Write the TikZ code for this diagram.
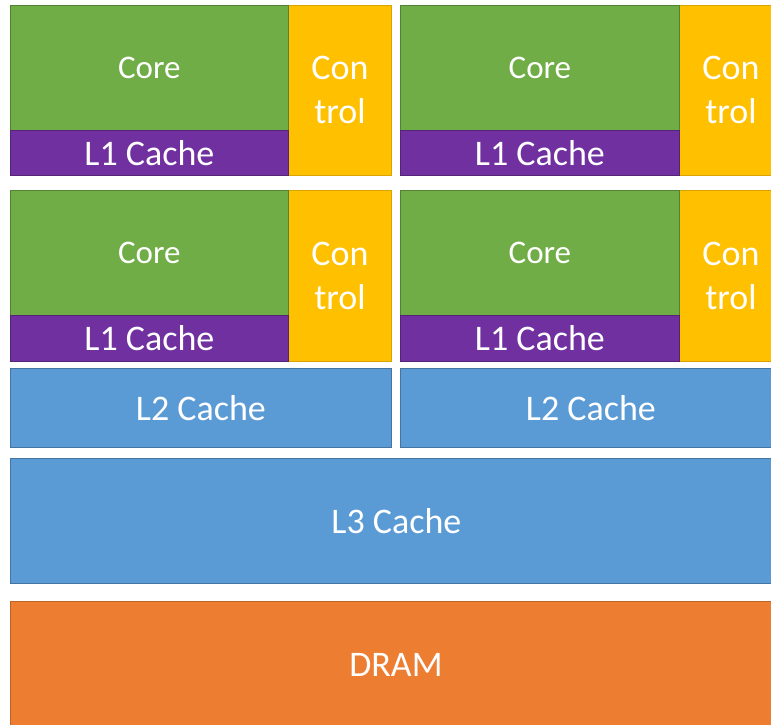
\documentclass[tikz,border=0pt]{standalone}
\usepackage{fontspec}
\setmainfont{Carlito}
\definecolor{cgreen}{HTML}{70AD47}
\definecolor{cpurple}{HTML}{7030A0}
\definecolor{cgold}{HTML}{FFC000}
\definecolor{cblue}{HTML}{5B9BD5}
\definecolor{corange}{HTML}{ED7D31}
\tikzset{
  blk/.style={rectangle, anchor=north west, inner sep=0pt, line width=0.8pt, text=white, align=center},
  corebox/.style={blk, fill=cgreen, draw=cgreen!75!black, font=\fontsize{33}{40}\selectfont},
  l1box/.style={blk, fill=cpurple, draw=cpurple!75!black, font=\fontsize{36}{44}\selectfont},
  ctlbox/.style={blk, fill=cgold, draw=cgold!85!black, font=\fontsize{36}{44}\selectfont},
  cachebox/.style={blk, fill=cblue, draw=cblue!75!black, font=\fontsize{36}{44}\selectfont},
  drambox/.style={blk, fill=corange, draw=corange!80!black, font=\fontsize{36}{44}\selectfont},
}
\begin{document}
\begin{tikzpicture}[x=1pt,y=-1pt]
\useasboundingbox (0,0) rectangle (771,724);
\fill[white] (0,0) rectangle (771,724);
\clip (0,0) rectangle (771,724);
% top-left
\node[ctlbox, minimum width=103pt, minimum height=170pt] (ctl1) at (288,5) {Con\\trol};
\node[corebox, minimum width=278pt, minimum height=125pt] (core1) at (10,5) {Core};
\node[l1box, minimum width=278pt, minimum height=45pt] (l11) at (10,130) {L1 Cache};
% top-right
\node[ctlbox, minimum width=103pt, minimum height=170pt] (ctl2) at (679,5) {Con\\trol};
\node[corebox, minimum width=279pt, minimum height=125pt] (core2) at (400,5) {Core};
\node[l1box, minimum width=279pt, minimum height=45pt] (l12) at (400,130) {L1 Cache};
% second row left
\node[ctlbox, minimum width=103pt, minimum height=171pt] (ctl3) at (288,190) {Con\\trol};
\node[corebox, minimum width=278pt, minimum height=125pt] (core3) at (10,190) {Core};
\node[l1box, minimum width=278pt, minimum height=46pt] (l13) at (10,315) {L1 Cache};
% second row right
\node[ctlbox, minimum width=103pt, minimum height=171pt] (ctl4) at (679,190) {Con\\trol};
\node[corebox, minimum width=279pt, minimum height=125pt] (core4) at (400,190) {Core};
\node[l1box, minimum width=279pt, minimum height=46pt] (l14) at (400,315) {L1 Cache};
% L2
\node[cachebox, minimum width=381pt, minimum height=79pt] (l2a) at (10,368) {L2 Cache};
\node[cachebox, minimum width=381pt, minimum height=79pt] (l2b) at (400,368) {L2 Cache};
% L3
\node[cachebox, minimum width=772pt, minimum height=125pt] (l3) at (10,458) {L3 Cache};
% DRAM
\node[drambox, minimum width=771pt, minimum height=128pt] (dram) at (10,601) {DRAM};
\end{tikzpicture}
\end{document}
